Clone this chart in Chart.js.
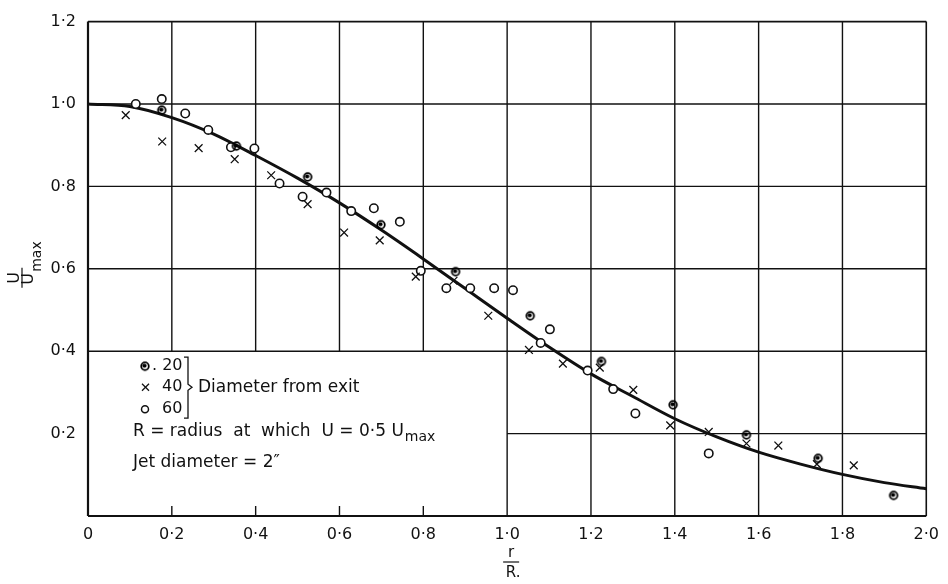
<!DOCTYPE html>
<html>
<head>
<meta charset="utf-8">
<script src="https://cdn.jsdelivr.net/npm/chart.js@4.4.1/dist/chart.umd.min.js"></script>
<style>
body { margin: 0; background: #fff; }
#wrap { width: 948px; height: 584px; }
</style>
</head>
<body>
<div id="wrap"><canvas id="grafik" width="948" height="584"></canvas></div>
<script>
// mean curve (r/R -> U/Umax)
const curveR = [0, 0.1, 0.2, 0.3, 0.4, 0.5, 0.6, 0.7, 0.8, 0.9, 1.0, 1.1, 1.2, 1.3, 1.4, 1.5, 1.6, 1.7, 1.8, 1.9, 2.0];
const curveU = [1.0, 0.994, 0.967, 0.927, 0.875, 0.82, 0.76, 0.694, 0.624, 0.552, 0.48, 0.41, 0.345, 0.29, 0.236, 0.192, 0.155, 0.126, 0.101, 0.081, 0.066];

// 20 diameters from exit
const r20 = [0.176, 0.354, 0.524, 0.699, 0.877, 1.055, 1.225, 1.396, 1.571, 1.742, 1.922];
const u20 = [0.985, 0.898, 0.823, 0.707, 0.593, 0.486, 0.375, 0.27, 0.197, 0.14, 0.05];

// 40 diameters
const r40 = [0.09, 0.177, 0.264, 0.35, 0.437, 0.524, 0.611, 0.696, 0.782, 0.872, 0.955, 1.052, 1.133, 1.221, 1.301, 1.389, 1.481, 1.571, 1.647, 1.739, 1.827];
const u40 = [0.973, 0.909, 0.893, 0.866, 0.827, 0.757, 0.688, 0.669, 0.581, 0.571, 0.486, 0.403, 0.37, 0.36, 0.306, 0.22, 0.204, 0.176, 0.171, 0.126, 0.123];

// 60 diameters
const r60 = [0.114, 0.176, 0.232, 0.287, 0.341, 0.397, 0.457, 0.512, 0.569, 0.628, 0.682, 0.744, 0.794, 0.855, 0.912, 0.969, 1.014, 1.08, 1.102, 1.192, 1.253, 1.306, 1.481];
const u60 = [1.0, 1.012, 0.977, 0.937, 0.895, 0.892, 0.807, 0.775, 0.785, 0.74, 0.747, 0.714, 0.595, 0.553, 0.553, 0.553, 0.548, 0.42, 0.453, 0.353, 0.308, 0.249, 0.152];

const xTickLabels = ['0', '0·2', '0·4', '0·6', '0·8', '1·0', '1·2', '1·4', '1·6', '1·8', '2·0'];
const yTickLabels = ['', '0·2', '0·4', '0·6', '0·8', '1·0', '1·2'];

// grid: the lower left block is left open for the key
const gridXUpper = [0.2, 0.4, 0.6, 0.8];
const gridXFull = [1.0, 1.2, 1.4, 1.6, 1.8];
const gridYFull = [0.4, 0.6, 0.8, 1.0];
const gridYRight = [0.2];

const INK = '#111';
const FONT = '"DejaVu Sans", sans-serif';

function pairs(xs, ys) {
    return xs.map((v, i) => ({ x: v, y: ys[i] }));
}

function dotRing() {
    const c = document.createElement('canvas');
    c.width = 12;
    c.height = 12;
    const g = c.getContext('2d');
    g.strokeStyle = '#000';
    g.lineWidth = 1.8;
    g.beginPath();
    g.arc(6, 6, 3.8, 0, Math.PI * 2);
    g.stroke();
    g.fillStyle = '#000';
    g.beginPath();
    g.arc(5.5, 5.5, 2.1, 0, Math.PI * 2);
    g.fill();
    return c;
}
const ringImg = dotRing();

function line(ctx, x1, y1, x2, y2) {
    ctx.beginPath();
    ctx.moveTo(x1, y1);
    ctx.lineTo(x2, y2);
    ctx.stroke();
}

const backdrop = {
    id: 'backdrop',
    beforeDatasetsDraw(chart) {
        const { ctx, chartArea: a, scales: { x, y } } = chart;
        ctx.save();
        ctx.strokeStyle = INK;
        ctx.lineWidth = 1.4;
        gridXUpper.forEach(v => {
            const px = x.getPixelForValue(v);
            line(ctx, px, y.getPixelForValue(0.4), px, a.top);
            line(ctx, px, a.bottom, px, a.bottom - 10);
        });
        gridXFull.forEach(v => {
            const px = x.getPixelForValue(v);
            line(ctx, px, a.bottom, px, a.top);
        });
        gridYFull.forEach(v => {
            const py = y.getPixelForValue(v);
            line(ctx, a.left, py, a.right, py);
        });
        gridYRight.forEach(v => {
            const py = y.getPixelForValue(v);
            line(ctx, x.getPixelForValue(1.0), py, a.right, py);
        });
        ctx.lineWidth = 1.6;
        line(ctx, a.left, a.top, a.right, a.top);
        line(ctx, a.right, a.top, a.right, a.bottom);
        ctx.lineWidth = 2.2;
        line(ctx, a.left, a.top, a.left, a.bottom);
        line(ctx, a.left, a.bottom, a.right, a.bottom);
        ctx.restore();
    },
    afterDraw(chart) {
        const { ctx, chartArea: a, scales: { x, y } } = chart;
        ctx.save();
        ctx.fillStyle = INK;
        ctx.strokeStyle = INK;
        ctx.textBaseline = 'middle';

        // y title: U over Umax, turned on its side
        ctx.save();
        ctx.translate(a.left - 66, y.getPixelForValue(0.6) + 9);
        ctx.rotate(-Math.PI / 2);
        ctx.font = '16px ' + FONT;
        ctx.textAlign = 'center';
        ctx.fillText('U', 0, -7);
        ctx.lineWidth = 1.2;
        line(ctx, -10, 0, 10, 0);
        ctx.textAlign = 'left';
        ctx.fillText('U', -7, 7);
        ctx.font = '14px ' + FONT;
        ctx.fillText('max', 6, 15);
        ctx.restore();

        // x title: r over R.
        const cx = x.getPixelForValue(1.0) + 4;
        ctx.font = '15px ' + FONT;
        ctx.textAlign = 'center';
        ctx.fillText('r', cx, a.bottom + 37);
        ctx.lineWidth = 1.2;
        line(ctx, cx - 8, a.bottom + 46, cx + 8, a.bottom + 46);
        ctx.fillText('R.', cx + 2, a.bottom + 57);

        // key in the open block
        const kx = a.left;
        const ky = y.getPixelForValue(0.4);
        const rows = [ky + 15, ky + 36, ky + 58];
        ctx.textAlign = 'left';
        ctx.font = '16px ' + FONT;
        ctx.drawImage(ringImg, kx + 57 - 6, rows[0] - 6);
        ctx.fillText('. 20', kx + 64, rows[0]);
        ctx.lineWidth = 1.3;
        line(ctx, kx + 54, rows[1] - 3.5, kx + 61, rows[1] + 3.5);
        line(ctx, kx + 54, rows[1] + 3.5, kx + 61, rows[1] - 3.5);
        ctx.fillText('40', kx + 74, rows[1]);
        ctx.lineWidth = 1.5;
        ctx.beginPath();
        ctx.arc(kx + 57, rows[2], 3.5, 0, Math.PI * 2);
        ctx.stroke();
        ctx.fillText('60', kx + 74, rows[2]);

        // brace
        const bx = kx + 100;
        ctx.lineWidth = 1.3;
        ctx.beginPath();
        ctx.moveTo(bx - 4, rows[0] - 9);
        ctx.lineTo(bx, rows[0] - 9);
        ctx.lineTo(bx, rows[1] - 3);
        ctx.lineTo(bx + 4, rows[1]);
        ctx.lineTo(bx, rows[1] + 3);
        ctx.lineTo(bx, rows[2] + 9);
        ctx.lineTo(bx - 4, rows[2] + 9);
        ctx.stroke();

        ctx.font = '17px ' + FONT;
        ctx.fillText('Diameter from exit', kx + 110, rows[1]);
        const rLine = 'R = radius  at  which  U = 0·5 U';
        ctx.fillText(rLine, kx + 45, ky + 80);
        const w = ctx.measureText(rLine).width;
        ctx.font = '14px ' + FONT;
        ctx.fillText('max', kx + 46 + w, ky + 86);
        ctx.font = '17px ' + FONT;
        ctx.fillText('Jet diameter = 2\u2033', kx + 45, ky + 111);
        ctx.restore();
    }
};

const ctx = document.getElementById('grafik').getContext('2d');

new Chart(ctx, {
    type: 'scatter',
    data: {
        datasets: [{
                label: 'curve',
                data: pairs(curveR, curveU),
                showLine: true,
                borderColor: INK,
                borderWidth: 3,
                pointRadius: 0,
                cubicInterpolationMode: 'monotone',
                order: 10
            },
            {
                label: '20',
                data: pairs(r20, u20),
                pointStyle: ringImg,
                pointRadius: 4,
                order: 1
            },
            {
                label: '40',
                data: pairs(r40, u40),
                pointStyle: 'crossRot',
                pointRadius: 5.5,
                borderColor: INK,
                borderWidth: 1.3,
                order: 1
            },
            {
                label: '60',
                data: pairs(r60, u60),
                pointStyle: 'circle',
                pointRadius: 4.2,
                borderColor: INK,
                backgroundColor: '#fff',
                borderWidth: 1.6,
                order: 1
            }
        ]
    },
    options: {
        responsive: false,
        animation: false,
        devicePixelRatio: 1,
        events: [],
        layout: {
            padding: { left: 0, right: 16, top: 10, bottom: 0 }
        },
        plugins: {
            legend: { display: false },
            tooltip: { enabled: false }
        },
        scales: {
            x: {
                type: 'linear',
                min: 0,
                max: 2,
                afterFit(s) { s.height = 68; },
                grid: { display: false, drawTicks: false },
                border: { display: false },
                ticks: {
                    stepSize: 0.2,
                    padding: 9,
                    color: INK,
                    font: { family: FONT, size: 16 },
                    maxRotation: 0,
                    autoSkip: false,
                    callback: (v, i) => xTickLabels[i]
                }
            },
            y: {
                type: 'linear',
                min: 0,
                max: 1.2,
                afterFit(s) { s.width = 88; },
                grid: { display: false, drawTicks: false },
                border: { display: false },
                ticks: {
                    stepSize: 0.2,
                    padding: 12,
                    color: INK,
                    font: { family: FONT, size: 16 },
                    autoSkip: false,
                    callback: (v, i) => yTickLabels[i]
                }
            }
        }
    },
    plugins: [backdrop]
});
</script>
</body>
</html>
